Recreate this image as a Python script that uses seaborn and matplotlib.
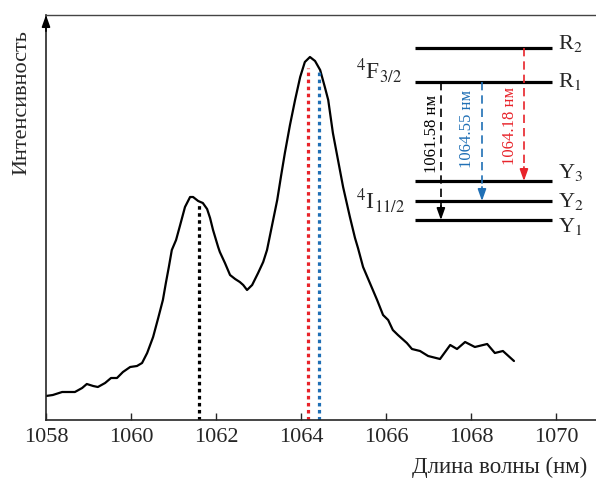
import numpy as np
import pandas as pd
import matplotlib
matplotlib.use("Agg")
import matplotlib.pyplot as plt
import seaborn as sns

### Data

wavelength = [1058.00, 1058.16, 1058.38, 1058.68, 1058.85, 1058.96, 1059.11, 1059.22,
              1059.39, 1059.53, 1059.67, 1059.81, 1059.98, 1060.14, 1060.26, 1060.38,
              1060.52, 1060.64, 1060.75, 1060.82, 1060.89, 1060.96, 1061.06, 1061.15,
              1061.27, 1061.39, 1061.46, 1061.58, 1061.69, 1061.79, 1061.86, 1061.93,
              1062.05, 1062.09, 1062.21, 1062.33, 1062.45, 1062.56, 1062.64, 1062.73,
              1062.85, 1062.99, 1063.11, 1063.20, 1063.32, 1063.44, 1063.53, 1063.62,
              1063.74, 1063.86, 1063.98, 1064.09, 1064.21, 1064.33, 1064.45, 1064.56,
              1064.64, 1064.75, 1064.87, 1064.99, 1065.15, 1065.27, 1065.34, 1065.46,
              1065.62, 1065.79, 1065.93, 1066.05, 1066.16, 1066.28, 1066.49, 1066.61,
              1066.80, 1066.99, 1067.27, 1067.39, 1067.51, 1067.67, 1067.86, 1068.09,
              1068.38, 1068.56, 1068.75, 1069.01]
intensity = [24, 25, 28, 28, 32, 36, 34, 33,
             37, 42, 42, 48, 53, 54, 57, 67,
             83, 102, 120, 137, 153, 170, 180, 194,
             213, 223, 223, 219, 217, 211, 202, 190,
             173, 168, 157, 145, 141, 138, 135, 130,
             135, 147, 158, 170, 195, 220, 244, 267,
             295, 320, 343, 358, 363, 359, 350, 333,
             320, 287, 260, 233, 203, 182, 172, 153,
             137, 120, 105, 100, 90, 85, 77, 71,
             69, 64, 61, 68, 75, 71, 78, 73,
             76, 67, 69, 59]

# marked lines: position (nm), height, colour
line_pos = [1061.60, 1064.16, 1064.42]
line_top = [215, 352, 350]
line_colors = ["black", "#e8232a", "#1f6fb5"]

xticks = [1058, 1060, 1062, 1064, 1066, 1068, 1070]

# energy level diagram (axes fraction)
level_names = [r"R$_2$", r"R$_1$", r"Y$_3$", r"Y$_2$", r"Y$_1$"]
level_y = [0.9185, 0.8346, 0.590, 0.5407, 0.4938]
name_shift = [0.012, 0.0, 0.022, 0.0, -0.016]
trans_labels = ["1061.58 нм", "1064.55 нм", "1064.18 нм"]

df = pd.DataFrame({"wl": wavelength, "I": intensity})

### Plot

sns.set_style("ticks")
plt.rcParams["font.family"] = ["Liberation Serif", "DejaVu Serif"]
plt.rcParams["mathtext.fontset"] = "stix"

fig = plt.figure(figsize=(5.96, 4.79), dpi=100)
ax = fig.add_axes([46 / 596, 1 - 420 / 479, 550 / 596, 405 / 479])

sns.lineplot(data=df, x="wl", y="I", color="black", linewidth=1.6, ax=ax)
ax.lines[0].set_solid_joinstyle("round")

for p, t, c in zip(line_pos, line_top, line_colors):
    ax.plot([p, p], [0, t], color=c, linewidth=2.3, dashes=(1.1, 1.1))

ax.set_xlim(1058, 1070.94)
ax.set_ylim(0, 405)
ax.set_xticks(xticks)
ax.set_xticklabels([str(x) for x in xticks], fontsize=16, family="Liberation Serif")
ax.set_yticks([])
ax.set_xlabel("")
ax.set_ylabel("")
ax.tick_params(axis="x", direction="in", length=5, width=1, pad=6)

ax.spines["right"].set_visible(False)
ax.spines["top"].set_color("#444444")
ax.spines["top"].set_linewidth(1.0)
ax.spines["left"].set_linewidth(1.2)
ax.spines["bottom"].set_linewidth(1.2)

# arrow on the y axis
ax.annotate("", xy=(0, 1.0), xytext=(0, 0.96), xycoords="axes fraction",
            arrowprops=dict(arrowstyle="-|>,head_length=0.7,head_width=0.25",
                            color="black", lw=1.2, shrinkA=0, shrinkB=0))

# axis labels
fig.text(22 / 596, 1 - 103 / 479, "Интенсивность", rotation=90, fontsize=16,
         ha="center", va="center")
fig.text(587 / 596, 1 - 467 / 479, "Длина волны (нм)", fontsize=16.5,
         ha="right", va="center")

# energy levels
for name, y, s in zip(level_names, level_y, name_shift):
    ax.plot([0.671, 0.92], [y, y], color="black", linewidth=2.3,
            transform=ax.transAxes, solid_capstyle="butt")
    ax.text(0.93, y + s, name, transform=ax.transAxes, fontsize=16,
            ha="left", va="center")

ax.text(0.563, 0.862, r"$^4$F$_{3/2}$", transform=ax.transAxes, fontsize=17,
        ha="left", va="center")
ax.text(0.563, 0.543, r"$^4$I$_{11/2}$", transform=ax.transAxes, fontsize=17,
        ha="left", va="center")

# transitions: x, start level, end level, colour, label x, label y
trans_x = [0.718, 0.7927, 0.869]
trans_start = [level_y[1], level_y[1], level_y[0]]
trans_end = [level_y[4], level_y[3], level_y[2]]
trans_colors = ["black", "#1f6fb5", "#e8232a"]
label_x = [0.702, 0.7655, 0.8436]
label_y = [0.706, 0.7185, 0.726]

for x, y0, y1, c, lab, lx, ly in zip(trans_x, trans_start, trans_end, trans_colors,
                                      trans_labels, label_x, label_y):
    ax.plot([x, x], [y0, y1 + 0.02], color=c, linewidth=1.2, dashes=(5, 3),
            transform=ax.transAxes)
    ax.annotate("", xy=(x, y1), xytext=(x, y1 + 0.035), xycoords="axes fraction",
                arrowprops=dict(arrowstyle="-|>,head_length=0.7,head_width=0.25",
                                color=c, lw=1.2, shrinkA=0, shrinkB=0))
    ax.text(lx, ly, lab, color=c, rotation=90, fontsize=12, ha="center",
            va="center", transform=ax.transAxes)

fig.savefig("out.png", dpi=100)
